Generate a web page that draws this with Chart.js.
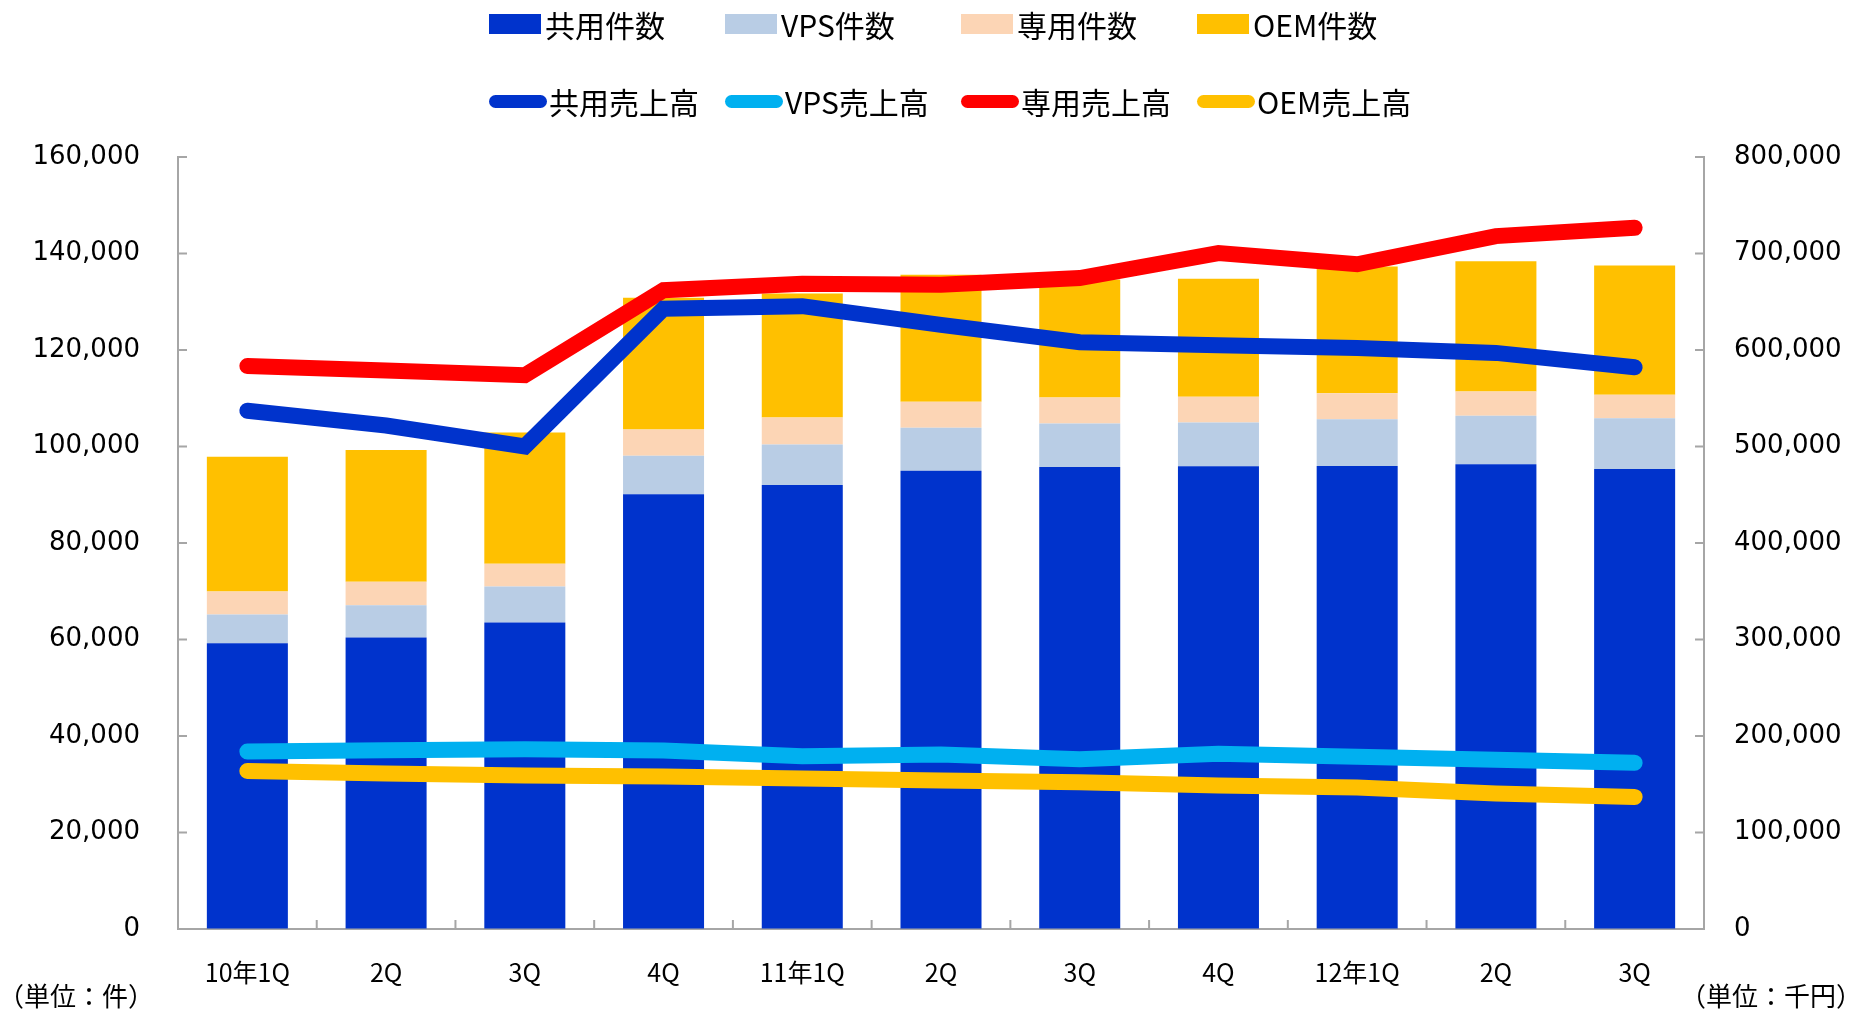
<html lang="ja">

<head>
    <meta charset="UTF-8">
    <title>件数・売上高推移</title>
    <script src="https://cdn.jsdelivr.net/npm/chart.js"></script>

    <style>
      body {
          background-color: #fff;
          margin: 0;
          font-family: 'Noto Sans CJK JP', 'DejaVu Sans', sans-serif;
      }

      #wrap {
          position: relative;
          width: 1866px;
          height: 1010px;
      }

      .legend-item {
          position: absolute;
          display: flex;
          align-items: center;
          font-size: 30px;
          color: #000;
          white-space: nowrap;
      }

      .unit {
          position: absolute;
          top: 976px;
          font-size: 26px;
          color: #000;
      }
    </style>
</head>

<body>
    <div id="wrap">
        <canvas id="chart"></canvas>
        <div id="legend"></div>
        <div class="unit" style="left: -2px;">（単位：件）</div>
        <div class="unit" style="right: 4px;">（単位：千円）</div>
    </div>
    <script>
        // quarters
        const labels = ['10年1Q', '2Q', '3Q', '4Q', '11年1Q', '2Q', '3Q', '4Q', '12年1Q', '2Q', '3Q'];

        // counts (件) - left axis, stacked
        const sharedCount = [59200, 60400, 63500, 90100, 92000, 95000, 95750, 95900, 95950, 96300, 95350];
        const vpsCount = [6000, 6700, 7500, 8000, 8400, 8900, 9000, 9100, 9700, 10050, 10500];
        const dedicatedCount = [4750, 4850, 4700, 5400, 5600, 5400, 5400, 5300, 5400, 5050, 4850];
        const oemCount = [27950, 27350, 27200, 27350, 25700, 26300, 24450, 24450, 26250, 27000, 26800];

        // sales (千円) - right axis
        const sharedSales = [537000, 521700, 500000, 642800, 645400, 626000, 608000, 604900, 602200, 597000, 582100];
        const vpsSales = [183900, 185300, 186300, 184900, 179100, 180800, 176000, 181500, 178400, 175300, 172200];
        const dedicatedSales = [583400, 578700, 573800, 662000, 668700, 667700, 674600, 700500, 688800, 718000, 726600];
        const oemSales = [163700, 161100, 159000, 158000, 155900, 153800, 152100, 148700, 146600, 140400, 136900];

        const countMax = 160000, countStep = 20000;
        const salesMax = 800000, salesStep = 100000;

        const axisColor = '#A6A6A6';
        const numFont = { family: "'DejaVu Sans', Verdana, sans-serif", size: 26 };

        function barSet(label, data, color) {
            return {
                type: 'bar', label: label, data: data, backgroundColor: color,
                yAxisID: 'y', order: 1, borderWidth: 0,
                barPercentage: 0.584, categoryPercentage: 1
            };
        }

        function lineSet(label, data, color) {
            return {
                type: 'line', label: label, data: data, borderColor: color, backgroundColor: color,
                yAxisID: 'y1', order: 0, borderWidth: 16, pointRadius: 0, pointHoverRadius: 0,
                tension: 0, borderCapStyle: 'round', fill: false
            };
        }

        // inward tick marks, like the original
        const innerTicks = {
            id: 'innerTicks',
            afterDraw(chart) {
                const c = chart.ctx, a = chart.chartArea;
                const y = chart.scales.y, y1 = chart.scales.y1, x = chart.scales.x;
                c.save();
                c.strokeStyle = axisColor;
                c.lineWidth = 2;
                c.beginPath();
                y.ticks.forEach(t => {
                    const p = y.getPixelForValue(t.value);
                    c.moveTo(a.left, p); c.lineTo(a.left + 9, p);
                });
                y1.ticks.forEach(t => {
                    const p = y1.getPixelForValue(t.value);
                    c.moveTo(a.right - 9, p); c.lineTo(a.right, p);
                });
                for (let i = 1; i < labels.length; i++) {
                    const p = (x.getPixelForValue(i - 1) + x.getPixelForValue(i)) / 2;
                    c.moveTo(p, a.bottom); c.lineTo(p, a.bottom - 9);
                }
                c.stroke();
                c.restore();
            }
        };

        const ctx = document.getElementById('chart').getContext('2d');
        const chart = new Chart(ctx, {
            data: {
                labels: labels,
                datasets: [
                    barSet('共用件数', sharedCount, '#0033CC'),
                    barSet('VPS件数', vpsCount, '#B9CDE5'),
                    barSet('専用件数', dedicatedCount, '#FCD5B5'),
                    barSet('OEM件数', oemCount, '#FFC000'),
                    lineSet('共用売上高', sharedSales, '#0033CC'),
                    lineSet('VPS売上高', vpsSales, '#00B0F0'),
                    lineSet('専用売上高', dedicatedSales, '#FF0000'),
                    lineSet('OEM売上高', oemSales, '#FFC000')
                ]
            },
            options: {
                responsive: true,
                maintainAspectRatio: false,
                animation: false,
                layout: { padding: { top: 157, bottom: 0, left: 0, right: 0 } },
                plugins: {
                    legend: { display: false },
                    tooltip: { enabled: false }
                },
                scales: {
                    x: {
                        stacked: true,
                        grid: { drawOnChartArea: false, drawTicks: false },
                        border: { color: axisColor, width: 2 },
                        ticks: {
                            color: '#000', padding: 28, maxRotation: 0, autoSkip: false,
                            font: { family: "'Noto Sans CJK JP', sans-serif", size: 25 }
                        },
                        afterFit: s => { s.height = 81; }
                    },
                    y: {
                        stacked: true,
                        position: 'left',
                        min: 0, max: countMax,
                        grid: { drawOnChartArea: false, drawTicks: false },
                        border: { color: axisColor, width: 2 },
                        ticks: {
                            stepSize: countStep, color: '#000', padding: 38, font: numFont,
                            callback: v => v.toLocaleString('en-US')
                        },
                        afterFit: s => { s.width = 178; }
                    },
                    y1: {
                        stacked: false,
                        position: 'right',
                        min: 0, max: salesMax,
                        grid: { drawOnChartArea: false, drawTicks: false },
                        border: { color: axisColor, width: 2 },
                        ticks: {
                            stepSize: salesStep, color: '#000', padding: 30, font: numFont,
                            callback: v => v.toLocaleString('en-US')
                        },
                        afterFit: s => { s.width = 162; }
                    }
                }
            },
            plugins: [innerTicks]
        });

        // two-row legend built from the datasets
        const legendEl = document.getElementById('legend');
        chart.data.datasets.forEach((ds, i) => {
            const row = ds.type === 'bar' ? 0 : 1;
            const col = i % 4;
            const item = document.createElement('div');
            item.className = 'legend-item';
            item.style.left = (489 + col * 236) + 'px';
            item.style.top = (row === 0 ? 4 : 81) + 'px';
            item.style.height = '40px';
            const sw = document.createElement('span');
            if (row === 0) {
                sw.style.cssText = 'display:inline-block;width:52px;height:20px;margin-right:4px;background:' + ds.backgroundColor;
            } else {
                sw.style.cssText = 'display:inline-block;width:58px;height:13px;border-radius:7px;margin-right:2px;background:' + ds.borderColor;
            }
            item.appendChild(sw);
            item.appendChild(document.createTextNode(ds.label));
            legendEl.appendChild(item);
        });
    </script>
</body>

</html>
